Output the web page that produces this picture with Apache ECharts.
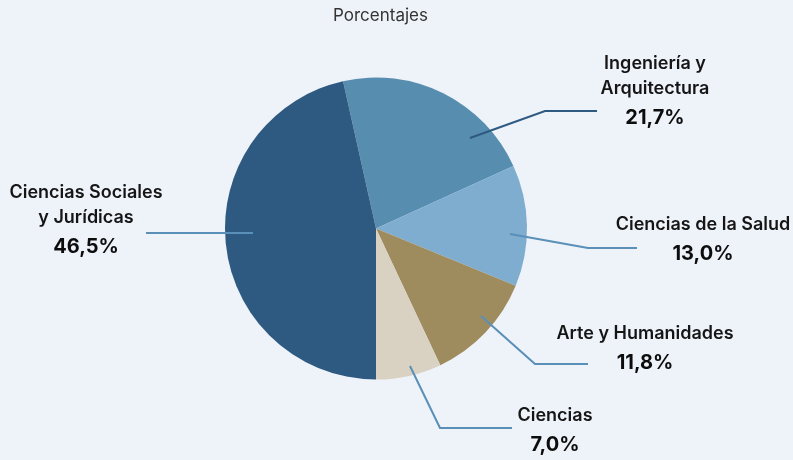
<!DOCTYPE html>
<html>
<head>
<meta charset="utf-8">
<script src="https://cdn.jsdelivr.net/npm/echarts@6/dist/echarts.min.js"></script>
<style>
  html, body { margin: 0; padding: 0; background: #eef2f9; }
  #chart { width: 793px; height: 460px; }
</style>
</head>
<body>
<div id="chart"></div>
<script>
// Share of students by field of study (percent), clockwise from the top
const categories = [
  'Ingeniería y\nArquitectura',
  'Ciencias de la Salud',
  'Arte y Humanidades',
  'Ciencias',
  'Ciencias Sociales\ny Jurídicas'
];
const shares = [21.7, 13.0, 11.8, 7.0, 46.5];
const colors = ['#578eb0', '#7eadd0', '#9e8c5f', '#d9d2c3', '#2e5a82'];
const guideColors = ['#2e5a82', '#5a8fb8', '#5a8fb8', '#5a8fb8', '#5a8fb8'];

// Callout placement for each slice: text anchor (centre x, top y) and the
// leader polyline from inside the slice to the text.
const callouts = [
  { x: 655, y: 51,  line: [[470, 138], [545, 111], [597, 111]] },
  { x: 703, y: 212, line: [[510, 234], [588, 248], [637, 248]] },
  { x: 645, y: 321, line: [[481, 316], [535, 364], [588, 364]] },
  { x: 555, y: 403, line: [[410, 366], [440, 428], [512, 428]] },
  { x: 86,  y: 180, line: [[253, 233], [146, 233]] }
];

const FONT = 'Inter';
const fmt = v => v.toFixed(1).replace('.', ',') + '%';
const total = shares.reduce((a, b) => a + b, 0);
// The large last slice ends at 6 o'clock; the first slice starts where it ends.
const startAngle = 270 - shares[4] / total * 360;

const chart = echarts.init(document.getElementById('chart'));
chart.setOption({
  backgroundColor: '#eef2f9',
  animation: false,
  textStyle: { fontFamily: FONT },
  title: {
    text: 'Porcentajes',
    left: 333,
    top: 7,
    padding: 0,
    textStyle: { fontFamily: FONT, fontSize: 17, fontWeight: 'normal', color: '#333333' }
  },
  // Leader lines sit above the slices they point into
  graphic: callouts.map((c, i) => ({
    type: 'polyline',
    z: 100,
    silent: true,
    shape: { points: c.line },
    style: { stroke: guideColors[i], lineWidth: 2, fill: null }
  })),
  series: [{
    type: 'pie',
    center: [376, 228.5],
    radius: 151,
    startAngle: startAngle,
    clockwise: true,
    silent: true,
    emphasis: { disabled: true },
    itemStyle: { borderWidth: 0 },
    data: categories.map((name, i) => ({
      name: name,
      value: shares[i],
      itemStyle: { color: colors[i] }
    })),
    label: {
      show: true,
      position: 'outside',
      formatter: p => p.name.split('\n').map(s => '{n|' + s + '}').join('\n') + '\n{v|' + fmt(p.value) + '}',
      rich: {
        n: { fontFamily: FONT, fontSize: 18, fontWeight: 600, color: '#151515', lineHeight: 25, align: 'center' },
        v: { fontFamily: FONT, fontSize: 20, fontWeight: 700, color: '#0d0d0d', lineHeight: 34, align: 'center' }
      }
    },
    labelLine: { show: false },
    labelLayout: p => {
      const c = callouts[p.dataIndex];
      return { x: c.x, y: c.y, align: 'center', verticalAlign: 'top' };
    }
  }]
});
</script>
</body>
</html>
